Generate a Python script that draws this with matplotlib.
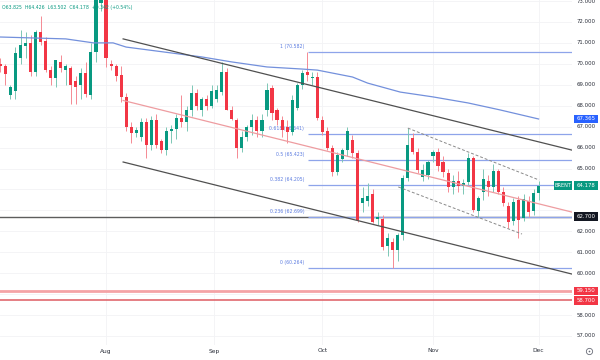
import numpy as np
import matplotlib
matplotlib.use("Agg")
import matplotlib.pyplot as plt
from matplotlib.lines import Line2D
from matplotlib.patches import Rectangle

# =====================================================
# DATA  (daily Brent candles)
# =====================================================
opens = [70.0, 69.9, 68.5, 68.7, 70.3, 70.85, 71.0, 69.6, 71.5, 71.1,
         69.7, 69.3, 70.1, 69.7, 69.8, 69.2, 69.0, 69.55, 68.5, 70.55,
         72.9, 73.2, 70.0, 69.9, 69.45, 68.4, 67.0, 66.7, 66.5, 67.2,
         66.1, 67.3, 66.3, 65.9, 66.8, 66.9, 67.4, 67.2, 67.8, 68.6,
         67.8, 68.3, 68.0, 68.3, 68.65, 69.6, 67.8, 67.3, 66.0, 66.5,
         67.0, 67.3, 66.8, 67.8, 68.85, 67.8, 67.3, 67.0, 66.75, 67.9,
         69.0, 69.6, 69.3, 69.35, 67.3, 66.8, 66.0, 64.85, 65.45, 65.9,
         66.35, 65.75, 63.35, 63.45, 63.8, 62.6, 62.6, 61.3, 61.5, 61.1,
         61.8, 64.55, 66.45, 65.8, 64.6, 64.7, 65.6, 65.8, 65.3, 64.8,
         64.1, 64.4, 64.15, 64.35, 65.5, 62.95, 63.9, 64.4, 64.1, 64.9,
         63.9, 63.2, 62.5, 63.5, 62.65, 63.45, 62.95, 63.825]
highs = [70.3, 70.0, 69.0, 70.8, 71.6, 71.5, 71.4, 71.6, 72.3, 71.3,
         69.9, 70.2, 70.4, 70.0, 69.9, 69.4, 69.8, 70.1, 71.0, 73.6,
         74.0, 73.5, 70.2, 70.0, 69.9, 68.6, 67.2, 67.0, 67.4, 67.4,
         67.5, 67.6, 66.4, 67.0, 67.1, 67.6, 68.5, 68.0, 69.0, 68.8,
         68.4, 68.5, 69.0, 69.0, 70.1, 69.8, 68.0, 67.4, 66.8, 67.1,
         67.6, 67.5, 67.6, 69.1, 69.0, 67.9, 67.5, 67.3, 68.5, 69.1,
         69.7, 70.582, 69.6, 69.6, 67.5, 67.0, 66.1, 65.8, 66.0, 67.0,
         66.6, 65.9, 64.1, 64.3, 64.0, 62.9, 62.8, 61.9, 61.7, 61.9,
         64.7, 66.93, 66.7, 66.0, 65.2, 65.4, 65.9, 66.0, 65.6, 65.0,
         64.7, 64.9, 64.5, 65.75, 65.6, 63.7, 65.0, 64.7, 65.2, 65.0,
         64.1, 63.4, 63.6, 63.7, 63.8, 63.7, 64.0, 64.426]
lows = [69.6, 69.0, 68.3, 68.3, 70.0, 70.3, 69.4, 69.4, 70.9, 69.6,
        69.0, 68.9, 69.6, 69.0, 68.1, 68.1, 68.3, 68.4, 68.3, 70.1,
        72.5, 69.85, 69.7, 69.2, 68.2, 66.8, 66.2, 66.5, 66.3, 65.5,
        65.9, 66.0, 65.75, 65.65, 66.2, 66.4, 67.0, 66.8, 67.5, 67.8,
        67.5, 67.8, 67.9, 68.2, 68.5, 67.8, 67.3, 65.5, 65.8, 66.3,
        66.6, 66.5, 66.5, 67.5, 67.3, 67.1, 66.5, 66.2, 66.6, 67.8,
        68.8, 69.2, 69.0, 67.3, 66.6, 65.9, 64.65, 64.7, 65.3, 65.6,
        65.5, 62.45, 62.9, 63.2, 62.4, 62.3, 61.1, 60.8, 60.264, 60.6,
        61.6, 64.4, 65.7, 64.8, 64.4, 64.5, 65.3, 64.9, 64.6, 63.9,
        63.8, 63.9, 63.8, 64.2, 62.9, 62.7, 63.5, 63.7, 63.9, 63.8,
        63.2, 62.15, 62.3, 61.7, 62.5, 62.7, 62.8, 63.502]
closes = [69.9, 69.5, 68.9, 70.5, 70.9, 71.0, 69.6, 71.5, 71.05, 69.7,
          69.3, 70.2, 69.8, 69.9, 69.0, 68.9, 69.55, 68.55, 70.55, 73.2,
          73.5, 70.3, 69.9, 69.4, 68.4, 67.0, 66.7, 66.85, 67.2, 66.1,
          67.3, 66.1, 65.9, 66.8, 66.9, 67.4, 67.2, 67.8, 68.6, 68.0,
          68.3, 68.0, 68.7, 68.75, 69.6, 67.8, 67.35, 66.0, 66.5, 67.0,
          67.3, 66.8, 67.3, 68.75, 67.65, 67.3, 66.85, 66.75, 68.27, 69.0,
          69.56, 69.45, 69.38, 67.4, 66.75, 66.0, 64.85, 65.65, 65.9, 66.8,
          65.75, 62.55, 63.6, 63.7, 62.45, 62.7, 61.25, 61.7, 61.1, 61.8,
          64.55, 66.1, 65.8, 64.93, 64.93, 65.3, 65.8, 65.1, 64.85, 64.1,
          64.4, 64.15, 64.3, 65.5, 63.0, 63.6, 64.5, 64.1, 64.9, 63.9,
          63.35, 62.45, 63.4, 62.55, 63.55, 62.9, 63.85, 64.178]

month_labels = ["Aug", "Sep", "Oct", "Nov", "Dec"]
month_pos = [21, 42.5, 64, 86, 107]

# moving average (blue), read at a few candles
ma_idx = [0, 13, 18.5, 22.4, 25, 40, 46, 53, 60, 63, 70, 73, 79.5, 86, 93, 99.3, 107]
ma_val = [71.28, 71.19, 71.0, 71.0, 70.8, 70.33, 70.09, 69.85, 69.75, 69.7,
          69.37, 69.08, 68.65, 68.42, 68.13, 67.8, 67.365]

# regression channel
chan_idx = [24.4, 113.6]
chan_upper = [71.19, 65.88]
chan_mid = [68.25, 62.92]
chan_lower = [65.31, 59.96]

# dashed parallel channel
dash_top_idx = [81.0, 107.1]
dash_top = [66.93, 64.45]
dash_bot_idx = [79.1, 103.7]
dash_bot = [64.12, 61.87]

# fibonacci retracement
fib_ratios = ["1", "0.618", "0.5", "0.382", "0.236", "0"]
fib_levels = [70.582, 66.641, 65.423, 64.205, 62.699, 60.264]
fib_start = 61.2

last_price = 64.178
ma_last = 67.365
level_black = 62.700
level_red1 = 59.150
level_red2 = 58.700
price_ticks = list(range(57, 74))

# =====================================================
# STYLE
# =====================================================
GREEN = "#089981"
RED = "#f23645"
BLUE = "#2962ff"
FIB = "#8ea4ea"
TXT = "#2a2e39"

XMIN, XMAX = -0.08, 113.64
YMIN, YMAX = 56.57, 73.048
PX_Y = (YMAX - YMIN) / 345      # price per pixel

fig = plt.figure(figsize=(6, 3.6), dpi=100)
ax = fig.add_axes([0, 15 / 360, 572 / 600, 345 / 360])
ax.set_xlim(XMIN, XMAX)
ax.set_ylim(YMIN, YMAX)
for s in ax.spines.values():
    s.set_visible(False)
ax.set_xticks([])
ax.set_yticks([])

# grid
for p in price_ticks:
    ax.axhline(p, color="#f2f3f5", lw=0.6, zorder=0)
for m in month_pos:
    ax.axvline(m, color="#f2f3f5", lw=0.6, zorder=0)

# -----------------------------------------
# Horizontal levels
# -----------------------------------------
ax.axhline(level_black, color="#5d5d5d", lw=1.0, zorder=2)
ax.axhline(level_red1, color="#f4a3a6", lw=2.0, zorder=2)
ax.axhline(level_red2, color="#de5b62", lw=1.1, zorder=2)

# -----------------------------------------
# Fibonacci
# -----------------------------------------
for r, lv in zip(fib_ratios, fib_levels):
    ax.plot([fib_start, XMAX], [lv, lv], color=FIB, lw=0.9, zorder=2,
            solid_capstyle="butt")
    ax.text(fib_start - 0.8, lv + 0.13, f"{r} ({lv:.3f})", color="#5b7be0",
            fontsize=3.3, ha="right", va="bottom", zorder=1)

# -----------------------------------------
# Candles
# -----------------------------------------
o = np.array(opens)
h = np.array(highs)
l = np.array(lows)
c = np.array(closes)
x = np.arange(len(o))
col = np.where(c >= o, GREEN, RED)
wick_col = np.where(c >= o, "#7cc7b5", "#f58a93")
ax.vlines(x, l, h, colors=wick_col, lw=0.7, zorder=3)
body_bottom = np.minimum(o, c)
body_height = np.maximum(np.abs(c - o), 0.05)
ax.bar(x, body_height, 0.62, body_bottom, color=col, lw=0, zorder=4)

# -----------------------------------------
# Moving average + channels
# -----------------------------------------
ax.plot(ma_idx, ma_val, color="#7390dc", lw=0.9, zorder=5)
ax.plot(chan_idx, chan_upper, color="#505050", lw=0.9, zorder=5)
ax.plot(chan_idx, chan_mid, color="#ee9ca0", lw=0.9, zorder=5)
ax.plot(chan_idx, chan_lower, color="#505050", lw=0.9, zorder=5)
ax.plot(dash_top_idx, dash_top, color="#8a8a8a", lw=0.7, ls=(0, (3, 2)), zorder=5)
ax.plot(dash_bot_idx, dash_bot, color="#8a8a8a", lw=0.7, ls=(0, (3, 2)), zorder=5)

# =====================================================
# PRICE SCALE
# =====================================================
ytr = ax.get_yaxis_transform()
tagged = [ma_last, last_price, level_black, level_red1, level_red2]
for p in price_ticks:
    # labels hidden behind a tag in the reference are skipped
    if min(abs(p - t) for t in tagged) < 0.3:
        continue
    ax.text(1 + 5 / 572, p, f"{p:.3f}", transform=ytr, fontsize=3.9,
            color=TXT, ha="left", va="center", clip_on=False, zorder=6)


def tag(price, text, fc, x0=574, x1=598, fs=3.9):
    # fixed-size coloured box (pixel geometry) with white text
    h_px = 8.6
    ax.add_patch(Rectangle(((x0 / 572), price - h_px / 2 * PX_Y),
                           (x1 - x0) / 572, h_px * PX_Y,
                           transform=ytr, fc=fc, ec="none",
                           clip_on=False, zorder=7))
    ax.text((x0 + x1) / 2 / 572, price, text, transform=ytr, fontsize=fs,
            color="white", ha="center", va="center", clip_on=False, zorder=8)


tag(ma_last, f"{ma_last:.3f}", BLUE)
tag(last_price, f"{last_price:.3f}", GREEN)
tag(level_black, f"{level_black:.3f}", "#131722")
tag(level_red1, f"{level_red1:.3f}", RED)
tag(level_red2, f"{level_red2:.3f}", RED)
tag(last_price, "BRENT", GREEN, x0=554, x1=572, fs=3.6)

# =====================================================
# TIME SCALE
# =====================================================
xtr = ax.get_xaxis_transform()
for lab, m in zip(month_labels, month_pos):
    ax.text(m, -6 / 345, lab, transform=xtr, fontsize=4.2, color=TXT,
            ha="center", va="center", clip_on=False)

# settings icon
fig.add_artist(Line2D([589 / 600], [1 - 351 / 360], marker="o", ms=4.5,
                      mfc="none", mec="#6a6d78", mew=0.6,
                      transform=fig.transFigure))
fig.add_artist(Line2D([589 / 600], [1 - 351 / 360], marker="o", ms=1.2,
                      mfc="#6a6d78", mec="none", transform=fig.transFigure))

# =====================================================
# OHLC LEGEND
# =====================================================
fig.text(2 / 600, 1 - 7 / 360,
         f"O{opens[-1]:.3f}  H{highs[-1]:.3f}  L{lows[-1]:.3f}  "
         f"C{last_price:.3f}  +0.342 (+0.54%)",
         fontsize=3.3, color=GREEN, ha="left", va="center", zorder=2)

fig.savefig("out.png", dpi=100, facecolor="white")
